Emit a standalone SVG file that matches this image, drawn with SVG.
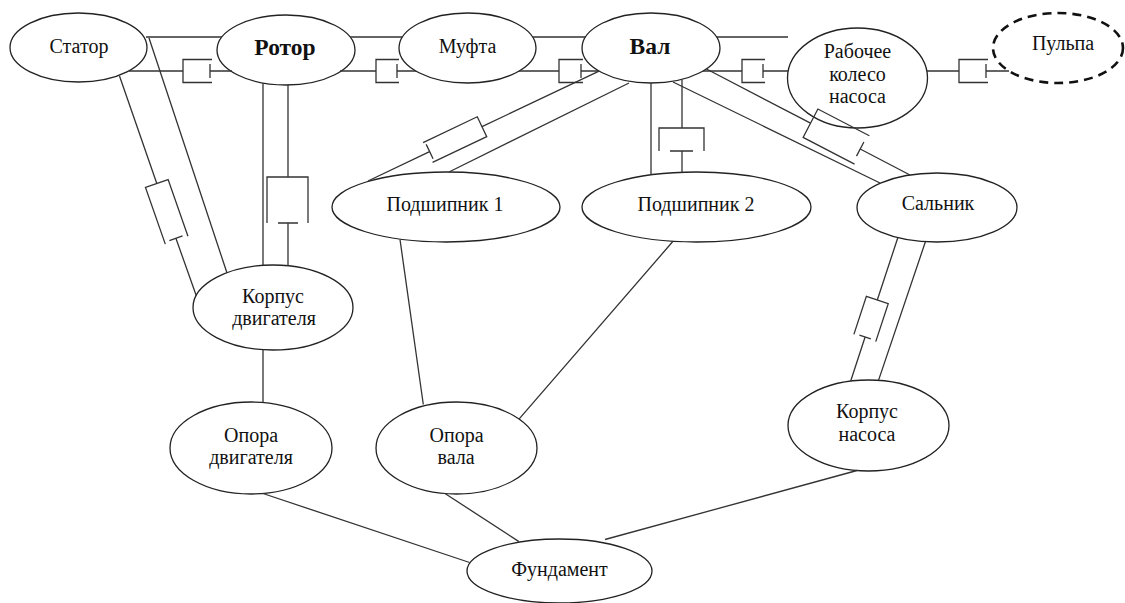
<svg xmlns="http://www.w3.org/2000/svg" width="1125" height="603" viewBox="0 0 1125 603">
<style>
.n{fill:#fff;stroke:#222;stroke-width:1.3}
.d{fill:#fff;stroke:#111;stroke-width:2.6;stroke-dasharray:9 6}
.c{fill:none;stroke:#333;stroke-width:1.3}
text{font-size:20px;fill:#111;text-anchor:middle}
.b{font-size:23.5px;font-weight:bold}
</style>
<rect width="1125" height="603" fill="#fff"/>
<g font-family="'Liberation Serif', 'Times New Roman', serif">
<g id="stator"><ellipse class="n" cx="78.5" cy="47.5" rx="68.5" ry="34.5"/><text x="79" y="53">Статор</text></g>
<g id="rotor"><ellipse class="n" cx="286" cy="50" rx="69" ry="35"/><text class="b" x="285" y="55">Ротор</text></g>
<g id="mufta"><ellipse class="n" cx="467.5" cy="48" rx="68.5" ry="35"/><text x="467.5" y="53">Муфта</text></g>
<g id="val"><ellipse class="n" cx="651" cy="48" rx="69" ry="35"/><text class="b" x="650" y="54">Вал</text></g>
<g id="koleso"><ellipse class="n" cx="857.5" cy="78" rx="70" ry="50"/><text x="857.5" y="58">Рабочее</text><text x="857.5" y="81">колесо</text><text x="857.5" y="103">насоса</text></g>
<g id="pulpa"><ellipse class="d" cx="1058" cy="48" rx="65" ry="35"/><text x="1063" y="50">Пульпа</text></g>
<g id="podsh1"><ellipse class="n" cx="446" cy="207" rx="114" ry="35"/><text x="445" y="211">Подшипник 1</text></g>
<g id="podsh2"><ellipse class="n" cx="696.5" cy="207" rx="114.5" ry="35"/><text x="696" y="211">Подшипник  2</text></g>
<g id="salnik"><ellipse class="n" cx="937" cy="207.5" rx="80" ry="34.5"/><text x="938" y="210">Сальник</text></g>
<g id="korpus-dv"><ellipse class="n" cx="273" cy="307.5" rx="80" ry="42.5"/><text x="273" y="303">Корпус</text><text x="274" y="325">двигателя</text></g>
<g id="opora-dv"><ellipse class="n" cx="251" cy="448" rx="81" ry="46"/><text x="251" y="442">Опора</text><text x="251" y="464">двигателя</text></g>
<g id="opora-val"><ellipse class="n" cx="456.5" cy="448" rx="80.5" ry="46"/><text x="456.5" y="442">Опора</text><text x="456" y="464">вала</text></g>
<g id="korpus-nas"><ellipse class="n" cx="868.5" cy="425.5" rx="80.5" ry="45.5"/><text x="867" y="418">Корпус</text><text x="867" y="441">насоса</text></g>
<g id="fundament"><ellipse class="n" cx="559.5" cy="571" rx="92.5" ry="32"/><text x="559.5" y="576">Фундамент</text></g>
</g>
<g id="connectors">
<path class="c" d="M146,37H222M350,37H402.5M532.5,37H585.5M716.5,37H788"/>
<path class="c" d="M129,71H183M210,71H232M340,71H376M397,71H416M519,71H559M581,71H599M703,71H742M763,71H788M927,71H959M986,71H1009"/>
<path class="c" d="M212,59.5H183V82.5H212M210,64V78"/>
<path class="c" d="M399,59.5H376V82.5H399M397,64V78"/>
<path class="c" d="M583,59.5H559V82.5H583M581,64V78"/>
<path class="c" d="M765,59.5H742V82.5H765M763,64V78"/>
<path class="c" d="M988,59.5H959V82.5H988M986,64V78"/>
<path class="c" d="M263,83V265M288,85V177M267,223V177H308V223M278,223H298M288,223V266"/>
<path class="c" d="M651,83V175M682,79.5V128M659,151V128H704V151M670,151H693M682,151V172.5"/>
<path class="c" d="M149,38L227,273M119.5,76L156.8,183.5M175.9,238.2L196.2,295.5"/>
<path class="c" transform="translate(156.8,183.5) rotate(70.7)" d="M60,-12H0V12H60M58,-7V7"/>
<path class="c" d="M629,83L449,172M598.5,71.3L482,126.7M429.6,151.6L368,181"/>
<path class="c" transform="translate(482,126.7) rotate(154.56)" d="M60,-11H0V11H60M58,-8V8"/>
<path class="c" d="M673,82L880,183M706.5,69L810.5,123.2M860.2,149L910,175"/>
<path class="c" transform="translate(810.5,123.2) rotate(27.49)" d="M58,-16H0V16H58M56,-8V8"/>
<path class="c" d="M897.8,237.7L877.3,300M865.1,337L850.7,381M925.4,241.8L878.5,380.4"/>
<path class="c" transform="translate(877.3,300) rotate(108.18)" d="M40,-11.5H0V11.5H40M39,-6V6"/>
<path class="c" d="M400,239.5L423.3,404.5M673,241.3L519.2,418.9M263,349.7V402.5M263,493.5L469.6,562.5M445,493.5L519,541.6M857,470.5L605,539.5"/>
</g>
</svg>
